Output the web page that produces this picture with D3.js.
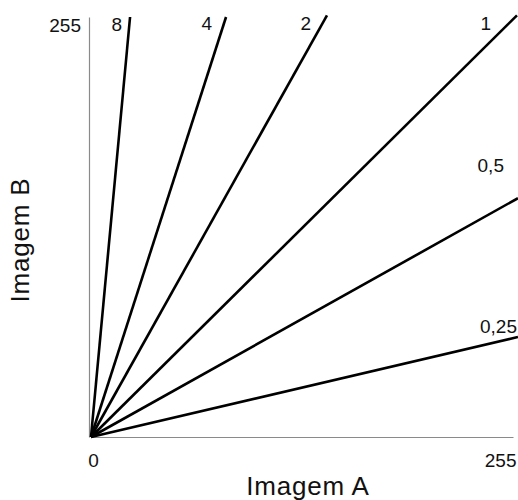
<!DOCTYPE html>
<html>
<head>
<meta charset="utf-8">
<script src="https://cdn.jsdelivr.net/npm/d3@7"></script>
<style>
  html, body { margin: 0; padding: 0; background: #fff; }
  svg { display: block; font-family: "Liberation Sans", Arial, Helvetica, sans-serif; }
</style>
</head>
<body>
<svg id="chart" width="518" height="500"></svg>
<script>
// ---- data ----
const lineLabels = ["8", "4", "2", "1", "0,5", "0,25"];
const endA = [23.6, 81.6, 142.6, 257.4, 258, 258];   // Imagem A value at line end
const endB = [255, 255, 256, 256, 145, 60.7];        // Imagem B value at line end
const xTickValues = [0, 255];
const yTickValues = [255];
const xTitle = "Imagem A";
const yTitle = "Imagem B";

// ---- layout ----
const labelOffsets = [[-8, 31, "abs"], [-14, 30, "abs"], [-16, 30, "abs"], [-26, 30, "abs"], [-14, -26, "rel"], [-1, -4, "rel"]];

const svg = d3.select("#chart");
const x = d3.scaleLinear().domain([0, 255]).range([91, 513]);
const y = d3.scaleLinear().domain([0, 255]).range([437, 17]);

// axes
const xAxis = svg.append("g")
  .attr("transform", "translate(0,437)")
  .call(d3.axisBottom(x).tickValues(xTickValues).tickSize(0).tickPadding(17).tickFormat(d3.format("d")));
const yAxis = svg.append("g")
  .attr("transform", "translate(89,0)")
  .call(d3.axisLeft(y).tickValues(yTickValues).tickSize(0).tickPadding(8).tickFormat(d3.format("d")));

[xAxis, yAxis].forEach(g => {
  g.select(".domain").attr("stroke", "#8a8a8a").attr("stroke-width", 1.2);
  g.selectAll("text").attr("font-size", 19).attr("fill", "#111")
    .attr("font-family", "'Liberation Sans', Arial, sans-serif");
});
xAxis.selectAll(".tick").filter(d => d === 255).select("text")
  .attr("text-anchor", "end").attr("x", 3);
xAxis.selectAll(".tick").filter(d => d === 0).select("text").attr("x", 2);
yAxis.selectAll("text").attr("y", 8);

// lines
const line = d3.line().x(d => x(d[0])).y(d => y(d[1]));
const lines = lineLabels.map((lab, i) => ({ lab, pts: [[0, 0], [endA[i], endB[i]]] }));

svg.append("g").selectAll("path")
  .data(lines)
  .join("path")
  .attr("d", d => line(d.pts))
  .attr("fill", "none")
  .attr("stroke", "#000")
  .attr("stroke-width", 2.6)
  .attr("stroke-linecap", "butt");

// line labels
svg.append("g").selectAll("text")
  .data(lines)
  .join("text")
  .attr("x", (d, i) => x(endA[i]) + labelOffsets[i][0])
  .attr("y", (d, i) => labelOffsets[i][2] === "abs" ? labelOffsets[i][1] : y(endB[i]) + labelOffsets[i][1])
  .attr("text-anchor", "end")
  .attr("font-size", 19)
  .attr("fill", "#111")
  .text(d => d.lab);

// titles
svg.append("text")
  .attr("x", 308).attr("y", 495)
  .attr("text-anchor", "middle")
  .attr("font-size", 26)
  .attr("letter-spacing", 0.8)
  .attr("fill", "#111")
  .text(xTitle);

svg.append("text")
  .attr("transform", "translate(29,240) rotate(-90)")
  .attr("text-anchor", "middle")
  .attr("font-size", 26)
  .attr("letter-spacing", 0.8)
  .attr("fill", "#111")
  .text(yTitle);
</script>
</body>
</html>
